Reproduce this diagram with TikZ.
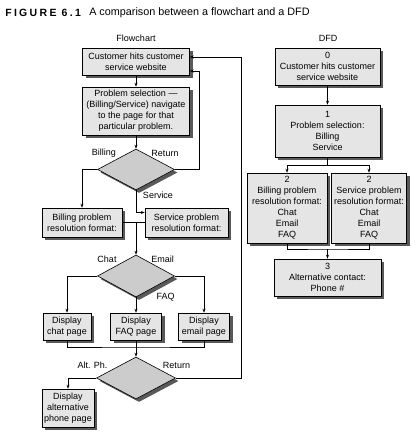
\documentclass[tikz,border=0pt]{standalone}
\usepackage{fontspec}
\setmainfont{Liberation Sans}
\usetikzlibrary{shapes.geometric,shadows,arrows.meta}
\begin{document}
\begin{tikzpicture}[x=1pt,y=-1pt,line width=.6pt,>={Stealth[length=4pt,width=3pt]},
    font=\fontsize{9}{11}\selectfont,
    dropshade/.style={general shadow={fill=black!65,shadow xshift=3pt,shadow yshift=-3pt}},
    box/.style={draw,fill=black!10,align=center,inner sep=1pt,dropshade},
    choice/.style={draw,diamond,fill=black!20,inner sep=0pt,dropshade},
    lbl/.style={inner sep=0pt}]
      \useasboundingbox (0,0) rectangle (419,446);
      \node[anchor=west,inner sep=0pt,font=\fontsize{10.5}{12}\selectfont\bfseries\addfontfeature{LetterSpace=22}] (fig) at (5,13) {FIGURE 6.1};
      \node[anchor=west,inner sep=0pt,font=\fontsize{10.8}{13}\selectfont] (cap) at (89,13) {A comparison between a flowchart and a DFD};
      \node[lbl] (fc) at (136,38) {Flowchart};
      \node[lbl] (dfd) at (328,38) {DFD};
      \node[box,minimum width=107,minimum height=27] (start) at (136,61.5) {Customer hits customer\\service website};
      \node[box,minimum width=107,minimum height=48] (select) at (136,111) {Problem selection ---\\(Billing/Service) navigate\\to the page for that\\particular problem.};
      \node[choice,minimum width=77,minimum height=41] (d1) at (136,169.5) {};
      \node[box,minimum width=80,minimum height=29] (bill) at (82,222.5) {Billing problem\\resolution format:};
      \node[box,minimum width=83,minimum height=29] (serv) at (186.5,222.5) {Service problem\\resolution format:};
      \node[choice,minimum width=77,minimum height=42] (d2) at (136,276) {};
      \node[box,minimum width=48,minimum height=27] (chat) at (67,326.5) {Display\\chat page};
      \node[box,minimum width=51,minimum height=27] (faq) at (136,326.5) {Display\\FAQ page};
      \node[box,minimum width=51,minimum height=27] (email) at (204,326.5) {Display\\email page};
      \node[choice,minimum width=79,minimum height=42] (d3) at (136,378) {};
      \node[box,minimum width=52,minimum height=38] (alt) at (68,408) {Display\\alternative\\phone page};
      \node[lbl] at (104,153) {Billing};
      \node[lbl] at (165,153) {Return};
      \node[lbl] at (158,195.5) {Service};
      \node[lbl] at (107,259) {Chat};
      \node[lbl] at (162.5,259) {Email};
      \node[lbl] at (165.5,297) {FAQ};
      \node[lbl] at (92.5,365) {Alt. Ph.};
      \node[lbl] at (176.5,365) {Return};
      \coordinate (r1) at (199,0);
      \coordinate (r2) at (241,0);
      \coordinate (j1) at (d1.south |- bill.east);
      \coordinate (j2) at (136,347);
      \draw[->] (start) -- (select);
      \draw[->] (select) -- (d1);
      \draw[->] (d1.west) -| (bill.north);
      \draw[->] (d1.south) |- ([yshift=10pt]serv.west);
      \draw (bill.east) -- (serv.west);
      \draw[->] (j1) -- (d2.north);
      \draw[->] (d1.east) -- (d1.east -| r1) |- ([yshift=-9.5pt]start.east);
      \draw[->] (d2.west) -| (chat.north);
      \draw[->] (d2.south) -- (faq.north);
      \draw[->] (d2.east) -| (email.north);
      \draw (chat.south) |- (j2) -| (email.south);
      \draw (faq.south) -- (j2);
      \draw[->] (j2) -- (d3.north);
      \draw[->] (d3.west) -| (alt.north);
      \draw[->] (d3.east) -- (d3.east -| r2) |- ([yshift=4.5pt]start.east);
      \node[box,minimum width=105,minimum height=37] (p0) at (327.5,66.5) {0\\Customer hits customer\\service website};
      \node[box,minimum width=105,minimum height=52] (p1) at (327.5,131) {1\\Problem selection:\\Billing\\Service};
      \node[box,minimum width=80,minimum height=70] (p2a) at (287,208) {2\\Billing problem\\resolution format:\\Chat\\Email\\FAQ};
      \node[box,minimum width=75,minimum height=70] (p2b) at (369,208) {2\\Service problem\\resolution format:\\Chat\\Email\\FAQ};
      \node[box,minimum width=107,minimum height=37] (p3) at (327.5,277.5) {3\\Alternative contact:\\Phone \#};
      \coordinate (s1) at (327.5,165);
      \coordinate (m1) at (327.5,249);
      \draw[->] (p0) -- (p1);
      \draw (p1.south) -- (s1);
      \draw[->] (s1) -| (p2a.north);
      \draw[->] (s1) -| (p2b.north);
      \draw (p2a.south) |- (m1) -| (p2b.south);
      \draw[->] (m1) -- (p3.north);
    \end{tikzpicture}
\end{document}
